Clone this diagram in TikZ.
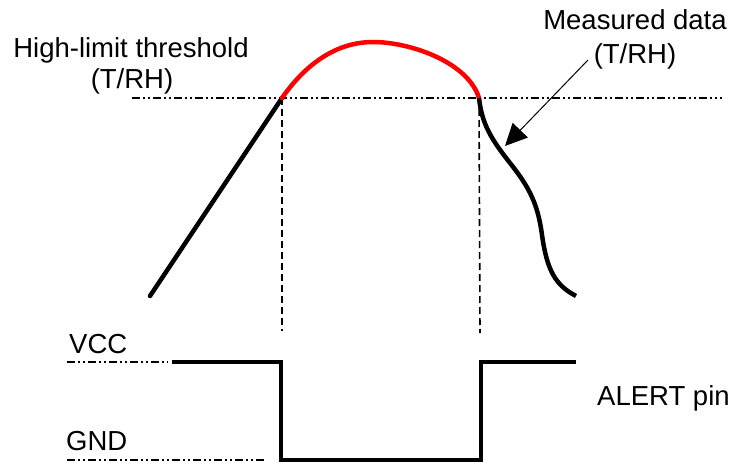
\documentclass[tikz,border=0pt]{standalone}
\usepackage{fontspec}
\setmainfont{Liberation Sans}
\usetikzlibrary{arrows.meta}
\begin{document}
\begin{tikzpicture}[x=1pt,y=-1pt,
  lbl/.style={inner sep=0pt,font=\fontsize{27.5}{31}\selectfont},
  dashdotdot/.style={line width=1.8pt,dash pattern=on 8pt off 3pt on 2pt off 3pt on 2pt off 3pt},
  vdash/.style={line width=1.6pt,dash pattern=on 7pt off 4pt},
  curve/.style={line width=4.5pt},
  sig/.style={line width=3.4pt}]
\useasboundingbox (0,0) rectangle (734,463);
% labels
\node[lbl,anchor=base] (hl) at (131,57) {High-limit threshold};
\node[lbl,anchor=base] (hl2) at (132,88) {(T/RH)};
\node[lbl,anchor=base] (md) at (635,29) {Measured data};
\node[lbl,anchor=base] (md2) at (635,63) {(T/RH)};
\node[lbl,anchor=base west] (vcc) at (69,353) {VCC};
\node[lbl,anchor=base west] (gnd) at (66,450) {GND};
\node[lbl,anchor=base west] (alert) at (597,405) {ALERT pin};
% coordinates
\coordinate (thL) at (132,98);
\coordinate (thR) at (722,98);
\coordinate (s0) at (150,296);
\coordinate (a) at (282,98);
\coordinate (b) at (479,98);
\coordinate (e) at (576,296);
\coordinate (aD) at (282,331);
\coordinate (bD) at (480,333);
\coordinate (arS) at (588,60);
\coordinate (arE) at (505,146);
% threshold
\draw[dashdotdot] (thL) -- (thR);
% dashed verticals
\draw[vdash] (a) -- (aD);
\draw[vdash] (b) -- (bD);
% data curve
\draw[curve,line cap=round] (s0) -- (a);
\draw[curve,red,line cap=round] (a) .. controls (312,55) and (345,42) .. (373,42)
   .. controls (410,42) and (468,62) .. (b);
\draw[curve,line cap=butt] (b) .. controls (482,125) and (492,140) .. (510,163)
   .. controls (530,188) and (538,205) .. (542,235)
   .. controls (547,270) and (555,285) .. (e);
% arrow
\draw[line width=1pt,-{Triangle[length=22pt,width=21pt]}] (arS) -- (arE);
% ALERT signal
\coordinate (v0) at (67,362);
\coordinate (v1) at (168,362);
\coordinate (v2) at (172,362);
\coordinate (v3) at (281,362);
\coordinate (g0) at (67,460);
\coordinate (g1) at (265,460);
\coordinate (g2) at (281,460);
\coordinate (g3) at (481,460);
\coordinate (v4) at (481,362);
\coordinate (v5) at (576,362);
\draw[dashdotdot] (v0) -- (v1);
\draw[dashdotdot] (g0) -- (g1);
\draw[sig,line join=miter] (v2) -- (v3) -- (g2) -- (g3) -- (v4) -- (v5);
\end{tikzpicture}
\end{document}
